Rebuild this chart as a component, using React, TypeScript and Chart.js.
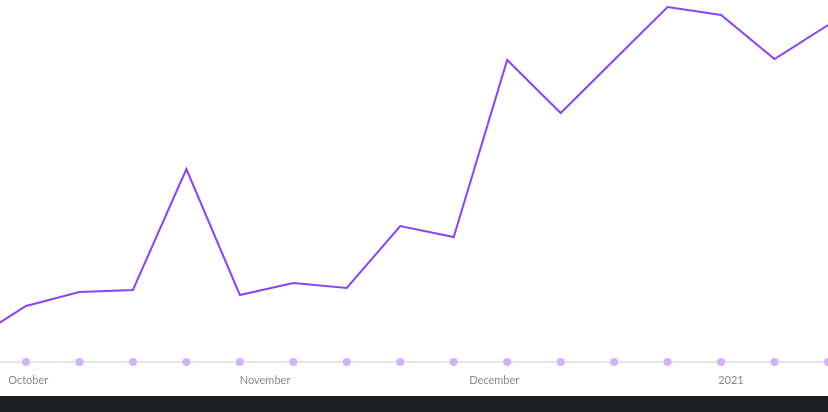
import React, { useEffect, useRef } from "react";
import { Chart, registerables } from "chart.js";

Chart.register(...registerables);

// days from Oct 1 (weekly points; first one lies just off the left edge)
const pointDays = [-7, 0, 7, 14, 21, 28, 35, 42, 49, 56, 63, 70, 77, 84, 91, 98, 105];
const seriesValues = [22, 56, 70, 72, 193, 67, 79, 74, 136, 125, 302, 249, 302, 355, 347, 303, 337];
const tickDays = [0.3, 31.3, 61.3, 92.3];
const tickLabels = ["October", "November", "December", "2021"];

export default function App() {
  const ref = useRef<HTMLCanvasElement | null>(null);

  useEffect(() => {
    document.body.style.margin = "0";
    const ctx = ref.current!;
    const lineData = pointDays.map((d, i) => ({ x: d, y: seriesValues[i] }));
    const dotData = pointDays.map((d) => ({ x: d, y: 0 }));
    const chart = new Chart(ctx, {
      type: "line",
      data: {
        datasets: [
          {
            data: lineData,
            borderColor: "#8b44fb",
            borderWidth: 2,
            pointRadius: 0,
            tension: 0,
            fill: false,
          },
          {
            data: dotData,
            showLine: false,
            pointRadius: 4,
            pointBackgroundColor: "#d3b1fd",
            pointBorderWidth: 0,
            borderColor: "transparent",
            clip: false as any,
          },
        ],
      },
      options: {
        animation: false,
        responsive: false,
        layout: { padding: 0, autoPadding: false },
        plugins: { legend: { display: false }, tooltip: { enabled: false } },
        scales: {
          x: {
            type: "linear",
            min: -3.4,
            max: 105,
            afterBuildTicks: (scale: any) => {
              scale.ticks = tickDays.map((v) => ({ value: v }));
            },
            afterFit: (scale: any) => {
              scale.height = 34;
              scale.paddingLeft = 0;
              scale.paddingRight = 0;
            },
            grid: { display: false, drawTicks: false },
            border: { display: true, color: "#e6e6e6", width: 2 },
            ticks: {
              autoSkip: false,
              maxRotation: 0,
              padding: 12,
              color: "#8a8a8a",
              font: { family: "Lato, sans-serif", size: 11 },
              callback: (v: any) => {
                const i = tickDays.indexOf(Number(v));
                return i >= 0 ? tickLabels[i] : "";
              },
            },
          },
          y: {
            display: false,
            min: 0,
            max: 362,
          },
        },
      },
    });
    return () => chart.destroy();
  }, []);

  return (
    <div>
      <canvas ref={ref} width={828} height={396} style={{ display: "block" }} />
      <div style={{ height: 16, background: "#1f2023" }} />
    </div>
  );
}
